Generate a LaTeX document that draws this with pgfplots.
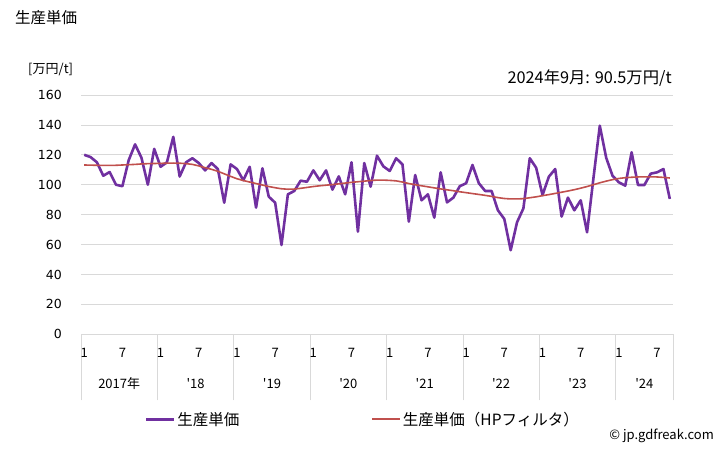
\documentclass[border=0pt]{standalone}
\usepackage{fontspec}
\setmainfont{DejaVu Sans}
\newfontfamily\jp{Noto Sans CJK JP}
\usepackage{pgfplots}
\pgfplotsset{compat=1.18}
\usepackage{pgfplotstable}
\definecolor{pur}{HTML}{7030A0}
\definecolor{hpred}{HTML}{C0504D}
\tikzset{lab/.style={font=\jp\fontsize{13}{15}\selectfont}}
\pgfplotstableread{
i v hp
0 120 113.2
1 118.5 113.1
2 115 113
3 106 112.9
4 108.5 112.9
5 100 113
6 99 113.2
7 116.5 113.4
8 127 113.6
9 118 113.9
10 100 114.1
11 124 114.2
12 112 114.3
13 115 114.4
14 132 114.5
15 105.5 114.4
16 115 114.1
17 117.7 113.6
18 114.5 112.6
19 109.6 111.4
20 114.5 110.3
21 110.5 109
22 88 107.3
23 113.6 105.6
24 110.5 104
25 103 102.8
26 112 101.8
27 84.7 100.8
28 111 99.8
29 92 98.8
30 88 98
31 59.7 97.3
32 93.6 97
33 95.8 97.1
34 102.7 97.6
35 102 98.2
36 109.6 98.8
37 103 99.3
38 109.6 99.7
39 96.7 100.1
40 105.6 100.6
41 93.6 101.1
42 115 101.6
43 68.6 102
44 114.5 102.4
45 98.7 102.8
46 119.4 103.1
47 112.3 103.1
48 109.2 102.9
49 117.7 102.6
50 113.6 101.8
51 75.3 100.8
52 106.5 100
53 89.6 99.3
54 93.6 98.6
55 78 97.9
56 108.3 97.2
57 88.2 96.6
58 91.4 96
59 99 95.3
60 101 94.7
61 113.2 94.1
62 101 93.5
63 95.8 92.9
64 95.8 92.2
65 82.9 91.4
66 77.1 90.8
67 56.2 90.5
68 74.9 90.5
69 84.2 90.7
70 117.7 91.3
71 111.4 91.9
72 93.1 92.7
73 105.4 93.4
74 110.5 94.2
75 78.7 95
76 91.4 95.8
77 82.9 96.7
78 89.6 97.7
79 68.2 98.8
80 104.3 100
81 139.5 101.3
82 118.1 102.4
83 106 103.4
84 101.6 104.2
85 99.4 104.7
86 121.7 105
87 99.8 105.2
88 99.8 105.3
89 107.4 105.3
90 108.3 105.2
91 110.5 104.9
92 90.5 104.5
}\datatable
\begin{document}
\begin{tikzpicture}[x=1pt,y=1pt]
\path[use as bounding box] (0,0) rectangle (728,450);
\node[anchor=west,inner sep=0pt] at (15,432) {\jp\fontsize{15.5}{18}\selectfont 生産単価};
\node[anchor=west,inner sep=0pt] at (28,380) {\jp\fontsize{13}{15}\selectfont [万円/t]};
\node[anchor=east,inner sep=0pt] at (672,372) {\jp\fontsize{16.3}{19}\selectfont 2024年9月: 90.5万円/t};
\node[anchor=east,inner sep=0pt] at (714,14) {\jp\fontsize{13}{15}\selectfont © jp.gdfreak.com};
\begin{axis}[
  at={(81pt,115.7pt)}, anchor=south west,
  scale only axis, width=592pt, height=239.3pt,
  xmin=-0.5, xmax=92.5, ymin=0, ymax=160,
  ytick={0,20,...,160},
  ymajorgrids, grid style={gray!30, line width=0.8pt},
  axis line style={draw=none},
  ytick style={draw=none},
  ytick align=inside, ytick pos=left,
  xtick={-0.5,11.5,23.5,35.5,47.5,59.5,71.5,83.5,92.5},
  xticklabels={},
  xtick style={gray!30, line width=0.8pt},
  xtick align=outside, xtick pos=bottom, major tick length=66pt,
  /pgf/number format/assume math mode=true,
  yticklabel style={font=\fontsize{12.5}{14}\selectfont, anchor=east, inner sep=0pt, xshift=-19pt},
  clip=false,
  legend style={at={(0.476,-0.355)}, anchor=center, draw=none, fill=none,
    font=\jp\fontsize{15.5}{17}\selectfont, legend columns=2,
    /tikz/every even column/.append style={column sep=130pt}},
  legend image code/.code={\draw[#1] (0pt,0pt) -- (28pt,0pt);},
]
\addplot[pur, line width=2.6pt, line join=round] table[x=i,y=v] {\datatable};
\addlegendentry{生産単価}
\addplot[hpred, line width=1.6pt] table[x=i,y=hp] {\datatable};
\addlegendentry{生産単価（HPフィルタ）}
\node[lab,yshift=-49pt] at (axis cs:5.5,0) {2017年};
\node[lab,yshift=-49pt] at (axis cs:17.5,0) {'18};
\node[lab,yshift=-49pt] at (axis cs:29.5,0) {'19};
\node[lab,yshift=-49pt] at (axis cs:41.5,0) {'20};
\node[lab,yshift=-49pt] at (axis cs:53.5,0) {'21};
\node[lab,yshift=-49pt] at (axis cs:65.5,0) {'22};
\node[lab,yshift=-49pt] at (axis cs:77.5,0) {'23};
\node[lab,yshift=-49pt] at (axis cs:88,0) {'24};
\node[lab,yshift=-19pt] at (axis cs:0,0) {1};
\node[lab,yshift=-19pt] at (axis cs:6,0) {7};
\node[lab,yshift=-19pt] at (axis cs:12,0) {1};
\node[lab,yshift=-19pt] at (axis cs:18,0) {7};
\node[lab,yshift=-19pt] at (axis cs:24,0) {1};
\node[lab,yshift=-19pt] at (axis cs:30,0) {7};
\node[lab,yshift=-19pt] at (axis cs:36,0) {1};
\node[lab,yshift=-19pt] at (axis cs:42,0) {7};
\node[lab,yshift=-19pt] at (axis cs:48,0) {1};
\node[lab,yshift=-19pt] at (axis cs:54,0) {7};
\node[lab,yshift=-19pt] at (axis cs:60,0) {1};
\node[lab,yshift=-19pt] at (axis cs:66,0) {7};
\node[lab,yshift=-19pt] at (axis cs:72,0) {1};
\node[lab,yshift=-19pt] at (axis cs:78,0) {7};
\node[lab,yshift=-19pt] at (axis cs:84,0) {1};
\node[lab,yshift=-19pt] at (axis cs:90,0) {7};
\end{axis}
\end{tikzpicture}
\end{document}
